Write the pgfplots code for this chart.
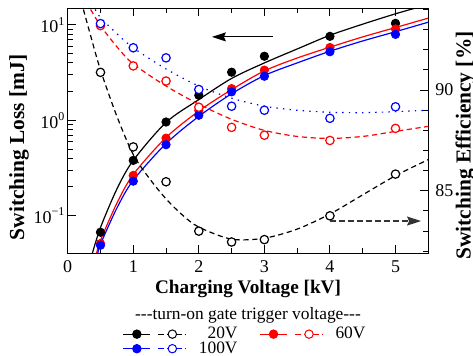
\documentclass[border=0pt]{standalone}
\usepackage{fontspec}
\setmainfont{Liberation Serif}
\usepackage{pgfplots}
\pgfplotsset{compat=1.18}
\usetikzlibrary{arrows.meta}
\pgfplotsset{
  common/.style={
    scale only axis, width=180.3pt, height=122.5pt,
    xmin=0, xmax=5.5,
    clip mode=individual,
    tick label style={font=\fontsize{9}{10}\selectfont},
    major tick length=4pt, minor tick length=2.5pt,
    every tick/.style={line width=0.5pt, black},
    axis line style={line width=0.75pt},
    /pgf/number format/assume math mode=true,
  },
  fit/.style={smooth, no markers, line width=0.6pt},
  pts/.style={only marks, mark=*, mark size=2.1pt},
  opts/.style={only marks, mark=*, mark size=2.1pt, mark options={fill=white, line width=0.6pt}},
}
\begin{document}
\begin{tikzpicture}
\useasboundingbox (-33.85pt,-51.35pt) rectangle (202.65pt,126.65pt);
\begin{axis}[common,
  ymode=log, ymin=0.0403, ymax=14.96,
  ytick pos=left,
  xtick={0,1,2,3,4,5}, minor xtick={0.5,1.5,2.5,3.5,4.5},
  ytick={0.1,1,10},
  yticklabels={10\textsuperscript{−1},10\textsuperscript{0},10\textsuperscript{1}},
  yticklabel style={inner xsep=1pt},
  xlabel={Charging Voltage [kV]},
  ylabel={Switching Loss [mJ]},
  every axis x label/.style={at={(axis description cs:0.5,-0.1457)}, anchor=center, font=\fontsize{9.6}{11}\selectfont\bfseries},
  every axis y label/.style={at={(axis description cs:-0.135,0.432)}, rotate=90, anchor=center, font=\fontsize{10.7}{12}\selectfont\bfseries},
  legend style={draw=none, fill=none, at={(axis description cs:0.495,-0.266)}, anchor=north,
    font=\fontsize{8.7}{9}\selectfont, legend columns=2,
    /tikz/every odd column/.append style={column sep=4pt},
    /tikz/every even column/.append style={column sep=9pt}, row sep=-4pt},
  legend cell align=right,
]
\addlegendimage{legend image code/.code={
  \draw[black,line width=0.5pt] plot[mark=*,mark size=2.1pt,mark indices={2}] coordinates {(0pt,0pt)(6.75pt,0pt)(13.5pt,0pt)};
  \draw[black,line width=0.5pt,dash pattern=on 3pt off 1.5pt] plot[mark=*,mark size=2.1pt,mark indices={2},mark options={solid,fill=white}] coordinates {(17.5pt,0pt)(24.5pt,0pt)(31.5pt,0pt)};
}}
\addlegendentry{20V}
\addlegendimage{legend image code/.code={
  \draw[red,line width=0.5pt] plot[mark=*,mark size=2.1pt,mark indices={2}] coordinates {(0pt,0pt)(6.75pt,0pt)(13.5pt,0pt)};
  \draw[red,line width=0.5pt,dash pattern=on 3pt off 1.5pt] plot[mark=*,mark size=2.1pt,mark indices={2},mark options={solid,fill=white}] coordinates {(17.5pt,0pt)(24.5pt,0pt)(31.5pt,0pt)};
}}
\addlegendentry{60V}
\addlegendimage{legend image code/.code={
  \draw[blue,line width=0.5pt] plot[mark=*,mark size=2.1pt,mark indices={2}] coordinates {(0pt,0pt)(6.75pt,0pt)(13.5pt,0pt)};
  \draw[blue,line width=0.5pt,dash pattern=on 3pt off 1.5pt] plot[mark=*,mark size=2.1pt,mark indices={2},mark options={solid,fill=white}] coordinates {(17.5pt,0pt)(24.5pt,0pt)(31.5pt,0pt)};
}}
\addlegendentry{100V}
% fitted curves (switching loss)
\addplot[fit, black] coordinates {(0.375,0.04)(0.5,0.075)(0.75,0.19)(1,0.38)(1.5,0.95)(2,1.65)(2.5,2.75)(3,4.0)(3.5,5.6)(4,7.8)(4.5,10.2)(5,13.1)(5.3,15)};
\addplot[fit, red] coordinates {(0.44,0.04)(0.5,0.055)(0.75,0.135)(1,0.27)(1.5,0.66)(2,1.25)(2.5,2.1)(3,3.3)(3.5,4.5)(4,5.85)(4.5,7.5)(5,9.4)(5.5,11.8)};
\addplot[fit, blue] coordinates {(0.46,0.04)(0.5,0.05)(0.75,0.12)(1,0.235)(1.5,0.57)(2,1.1)(2.5,1.9)(3,2.95)(3.5,4.0)(4,5.3)(4.5,6.8)(5,8.5)(5.5,10.7)};
% measured switching loss
\addplot[pts, black] coordinates {(0.5,0.067)(1,0.38)(1.5,0.96)(2,1.83)(2.5,3.2)(3,4.7)(4,7.6)(5,10.4)};
\addplot[pts, red] coordinates {(0.5,0.051)(1,0.264)(1.5,0.65)(2,1.27)(2.5,2.15)(3,3.36)(4,5.8)(5,9.07)};
\addplot[pts, blue] coordinates {(0.5,0.049)(1,0.23)(1.5,0.555)(2,1.13)(2.5,1.99)(3,2.9)(4,5.24)(5,7.98)};
\draw[line width=0.6pt,-{Stealth[length=7pt,width=4.5pt,inset=1pt]}] (axis cs:3.13,7.5) -- (axis cs:2.2,7.5);
\end{axis}
\begin{axis}[common,
  ymin=81.9, ymax=94.06,
  ytick pos=right,
  xtick=\empty,
  ytick={85,90}, minor ytick={82,83,84,86,87,88,89,91,92,93,94},
  ylabel={Switching Efficiency [\%]},
  every axis y label/.style={at={(axis description cs:1.1032,0.44)}, rotate=90, anchor=center, font=\fontsize{10.7}{12}\selectfont\bfseries},
]
\addplot[fit, black, dash pattern=on 2.6pt off 1.8pt] coordinates {(0.24,94)(0.35,92.7)(0.5,91.0)(0.75,88.7)(1,86.8)(1.25,85.6)(1.5,84.6)(1.75,83.8)(2,83.2)(2.5,82.6)(3,82.65)(3.5,83.1)(4,83.85)(4.5,84.8)(5,85.75)(5.5,86.55)};
\addplot[fit, red, dash pattern=on 2.6pt off 1.8pt] coordinates {(0.35,94)(0.5,93.2)(0.75,92.15)(1,91.3)(1.5,90.2)(2,89.3)(2.5,88.55)(3,88.0)(3.5,87.7)(4,87.6)(4.5,87.7)(5,87.95)(5.5,88.2)};
\addplot[fit, blue, dash pattern=on 0.7pt off 2.6pt] coordinates {(0.42,94)(0.5,93.6)(0.75,92.8)(1,92.1)(1.5,91.05)(2,90.2)(2.5,89.6)(3,89.2)(3.5,89.0)(4,88.9)(4.5,88.88)(5,88.93)(5.5,89.0)};
\addplot[opts, black] coordinates {(0.5,90.88)(1,87.18)(1.5,85.45)(2,83.0)(2.5,82.46)(3,82.58)(4,83.76)(5,85.83)};
\addplot[opts, red] coordinates {(0.5,93.2)(1,91.2)(1.5,90.45)(2,89.15)(2.5,88.15)(3,87.76)(4,87.5)(5,88.1)};
\addplot[opts, blue] coordinates {(0.5,93.3)(1,92.1)(1.5,91.6)(2,90.03)(2.5,89.2)(3,89.0)(4,88.6)(5,89.17)};
\draw[black!80, line width=0.6pt, dash pattern=on 3pt off 1.5pt, -{Stealth[length=7pt,width=4.5pt,inset=1pt]}] (axis cs:4.0,83.5) -- (axis cs:5.39,83.5);
\node[font=\fontsize{8.7}{9}\selectfont, anchor=center] at (axis description cs:0.5,-0.252) {-{}-{}-turn-on gate trigger voltage-{}-{}-};
\end{axis}
\end{tikzpicture}
\end{document}
